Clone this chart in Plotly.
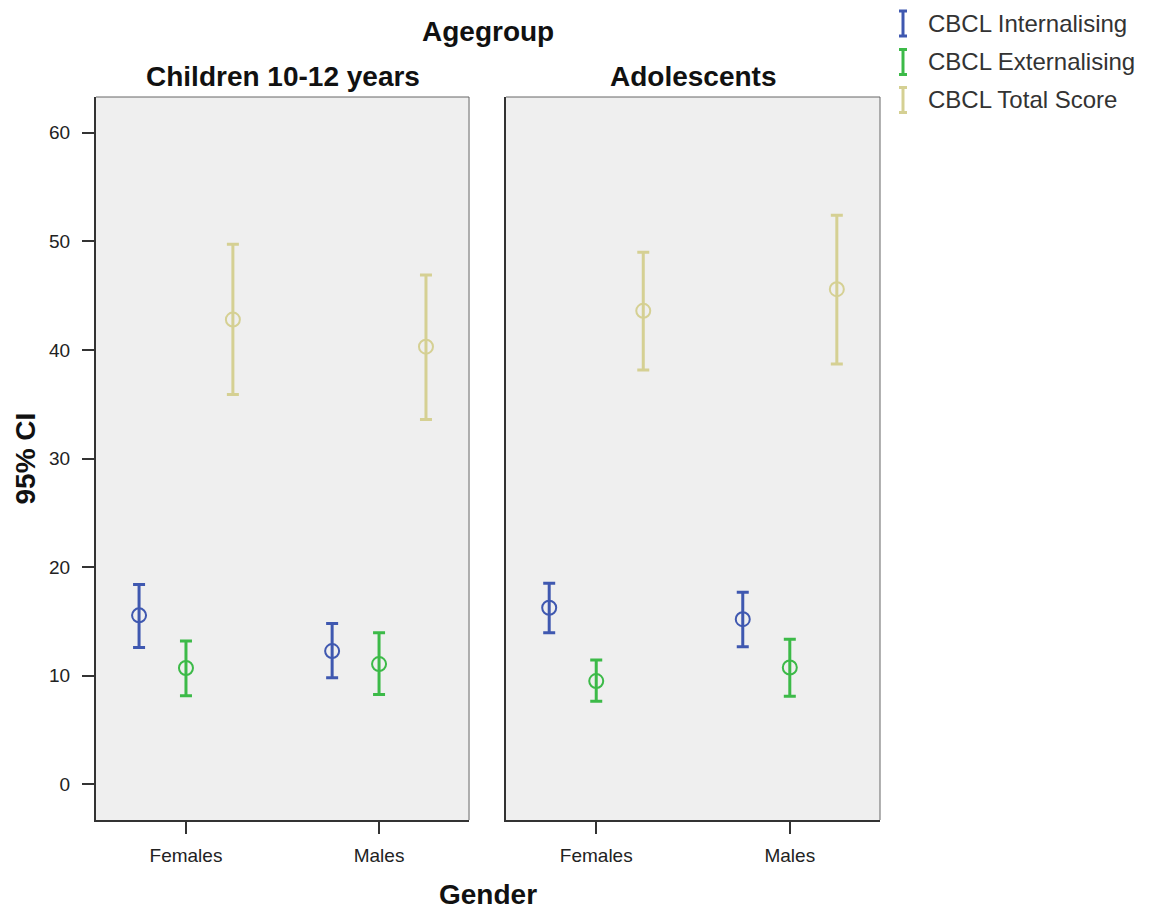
import plotly.graph_objects as go

# ---------------- data ----------------
genders = ["Females", "Males"]
panels = ["Children 10-12 years", "Adolescents"]
series = ["CBCL Internalising", "CBCL Externalising", "CBCL Total Score"]
colors = ["#3F58B0", "#3CBA48", "#D5D093"]

# means / lower / upper per panel, per series, per gender
child_mean = [[15.55, 12.26], [10.7, 11.06], [42.8, 40.3]]
child_low = [[12.6, 9.8], [8.15, 8.26], [35.9, 33.6]]
child_high = [[18.4, 14.8], [13.2, 13.95], [49.74, 46.9]]

adol_mean = [[16.25, 15.2], [9.5, 10.75], [43.6, 45.6]]
adol_low = [[13.95, 12.65], [7.65, 8.1], [38.16, 38.7]]
adol_high = [[18.5, 17.67], [11.43, 13.36], [49.0, 52.4]]

y_ticks = [0, 10, 20, 30, 40, 50, 60]

offsets = [-0.243, 0.0, 0.243]
FONT = "Liberation Sans, Arial, sans-serif"

W, H = 1144, 901          # page body has an 8px margin
ML, MR, MT, MB = 88, 272, 89, 89
PW, PH = W - ML - MR, H - MT - MB

fig = go.Figure()

panel_data = [(child_mean, child_low, child_high), (adol_mean, adol_low, adol_high)]
for p, (means, lows, highs) in enumerate(panel_data):
    xa = "x" if p == 0 else "x2"
    ya = "y" if p == 0 else "y2"
    for s in range(len(series)):
        xs = [g + offsets[s] for g in range(len(genders))]
        m = means[s]
        plus = [highs[s][i] - m[i] for i in range(len(m))]
        minus = [m[i] - lows[s][i] for i in range(len(m))]
        fig.add_trace(go.Scatter(
            x=xs, y=m, mode="markers", xaxis=xa, yaxis=ya,
            marker=dict(symbol="circle-open", size=14, color=colors[s],
                        line=dict(width=2, color=colors[s])),
            error_y=dict(type="data", symmetric=False, array=plus, arrayminus=minus,
                         color=colors[s], thickness=3, width=6),
            showlegend=False, name=series[s],
        ))

yrange = [-3.3, 63.3]
xrange = [-0.466, 1.466]
tickfont = dict(family=FONT, size=19, color="#222")
common_x = dict(range=xrange, tickvals=[0, 1], ticktext=genders, showgrid=False,
                zeroline=False, showline=True, linecolor="#333", linewidth=2,
                ticks="outside", ticklen=12, tickwidth=2, tickcolor="#333",
                tickfont=tickfont, ticklabelstandoff=5)
fig.update_layout(
    width=W, height=H,
    paper_bgcolor="white", plot_bgcolor="#EFEFEF",
    margin=dict(l=ML, r=MR, t=MT, b=MB),
    xaxis=dict(domain=[0, 0.4758], anchor="y", **common_x),
    xaxis2=dict(domain=[0.523, 1], anchor="y2", **common_x),
    yaxis=dict(range=yrange, tickvals=y_ticks, showgrid=False, zeroline=False,
               showline=True, linecolor="#333", linewidth=2, ticks="outside",
               ticklen=12, tickwidth=2, tickcolor="#333", tickfont=tickfont,
               ticklabelstandoff=8),
    yaxis2=dict(range=yrange, anchor="x2", showgrid=False, zeroline=False,
                showticklabels=False, showline=True, linecolor="#333", linewidth=2),
    showlegend=False,
)

# Panel top/right borders
for xr, yr in [("x domain", "y domain"), ("x2 domain", "y2 domain")]:
    fig.add_shape(type="line", xref=xr, yref=yr, x0=0, x1=1, y0=1, y1=1,
                  line=dict(color="#666", width=1))
    fig.add_shape(type="line", xref=xr, yref=yr, x0=1, x1=1, y0=0, y1=1,
                  line=dict(color="#666", width=1))

bold = dict(family=FONT, size=28, color="#111")
fig.add_annotation(text="<b>Agegroup</b>", xref="paper", yref="paper", x=0.5, y=1,
                   yshift=66, showarrow=False, font=bold, yanchor="middle")
fig.add_annotation(text="<b>" + panels[0] + "</b>", xref="x domain", yref="paper",
                   x=0.5, y=1, yshift=21, showarrow=False, font=bold, yanchor="middle")
fig.add_annotation(text="<b>" + panels[1] + "</b>", xref="x2 domain", yref="paper",
                   x=0.5, y=1, yshift=21, showarrow=False, font=bold, yanchor="middle")
fig.add_annotation(text="<b>Gender</b>", xref="paper", yref="paper", x=0.5, y=0,
                   yshift=-74, showarrow=False, font=bold, yanchor="middle")
fig.add_annotation(text="<b>95% CI</b>", xref="paper", yref="paper", x=0, y=0.5,
                   xshift=-71, showarrow=False, font=bold, textangle=-90,
                   xanchor="center", yanchor="middle")

# Manual legend (I-beam symbols), positions in figure pixels converted to paper units
def px_x(px):
    return (px - ML) / PW

def px_y(py):
    return 1 - (py - MT) / PH

sym_x = 895
legend_y = [15.5, 54, 92]
for i, name in enumerate(series):
    yc = legend_y[i]
    x0 = px_x(sym_x)
    fig.add_shape(type="line", xref="paper", yref="paper", x0=x0, x1=x0,
                  y0=px_y(yc - 12.5), y1=px_y(yc + 12.5),
                  line=dict(color=colors[i], width=3))
    for yy in (yc - 12.5, yc + 12.5):
        fig.add_shape(type="line", xref="paper", yref="paper", x0=px_x(sym_x - 4),
                      x1=px_x(sym_x + 4), y0=px_y(yy), y1=px_y(yy),
                      line=dict(color=colors[i], width=3))
    fig.add_annotation(text=name, xref="paper", yref="paper", x=px_x(918),
                       y=px_y(yc), xanchor="left", yanchor="middle", showarrow=False,
                       font=dict(family=FONT, size=24, color="#333"))

fig.write_html("out.html")
